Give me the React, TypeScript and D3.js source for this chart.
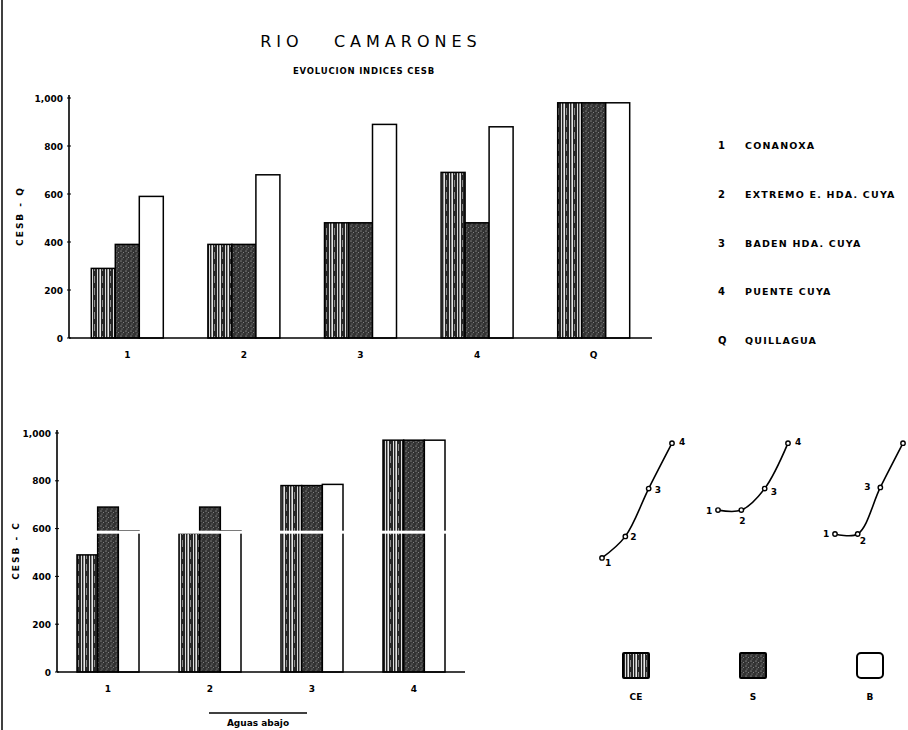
import React from 'react';
import * as d3 from 'd3';

// stations downstream, Q = Quillagua
const topCategories = ['1', '2', '3', '4', 'Q'];
const bottomCategories = ['1', '2', '3', '4'];
const series = ['CE', 'S', 'B'];

// CESB - Q
const topCE = [290, 390, 480, 690, 980];
const topS = [390, 390, 480, 480, 980];
const topB = [590, 680, 890, 880, 980];

// CESB - C
const bottomCE = [490, 580, 780, 970];
const bottomS = [690, 690, 780, 970];
const bottomB = [590, 590, 785, 970];

const yTicks = [0, 200, 400, 600, 800, 1000];
const stationNames = [
  ['1', 'CONANOXA'],
  ['2', 'EXTREMO E. HDA. CUYA'],
  ['3', 'BADEN HDA. CUYA'],
  ['4', 'PUENTE CUYA'],
  ['Q', 'QUILLAGUA'],
];
const fills: Record<string, string> = {CE: 'url(#ceFill)', S: 'url(#sFill)', B: '#fff'};
const font = '"DejaVu Sans", sans-serif';

function BarPanel({cats, data, x0, x1, y0, y1, groupW, axisLabel, labelX, breakAt}: any) {
  const x = d3.scaleBand().domain(cats).range([x0, x1]);
  const xs = d3.scaleBand().domain(series).range([0, groupW]);
  const y = d3.scaleLinear().domain([0, 1000]).range([y0, y1]);
  const fmt = d3.format(',');
  return (
    <g>
      <line x1={x0} x2={x0} y1={y(0)} y2={y(1000) - 3} stroke="#000" strokeWidth={1.6} />
      {yTicks.map(t => (
        <g key={t}>
          <line x1={x0 - 2} x2={x0 + 2} y1={y(t)} y2={y(t)} stroke="#000" />
          <text x={x0 - 6} y={y(t) + 3.5} textAnchor="end" fontSize={9} fontWeight="bold" fontFamily={font}>
            {fmt(t)}
          </text>
        </g>
      ))}
      {cats.map((c: string, i: number) => {
        const cx = (x(c) as number) + x.bandwidth() / 2;
        return (
          <g key={c}>
            {series.map(s => {
              const v = data[s][i];
              return (
                <rect
                  key={s}
                  x={cx - groupW / 2 + (xs(s) as number)}
                  y={y(v)}
                  width={xs.bandwidth()}
                  height={y(0) - y(v)}
                  fill={fills[s]}
                  stroke="#000"
                  strokeWidth={1.5}
                />
              );
            })}
            <text x={cx} y={y0 + 20} textAnchor="middle" fontSize={9} fontWeight="bold" fontFamily={font}>
              {c}
            </text>
          </g>
        );
      })}
      {breakAt != null && <rect x={x0 + 2} y={y(breakAt) - 1.5} width={x1 - x0} height={3} fill="#fff" />}
      <line x1={x0} x2={x1} y1={y0} y2={y0} stroke="#000" strokeWidth={1.6} />
      <text
        transform={`translate(${labelX},${(y0 + y1) / 2 - 2}) rotate(-90)`}
        textAnchor="middle"
        fontSize={9}
        fontWeight="bold"
        fontFamily={font}
        letterSpacing={2}
      >
        {axisLabel}
      </text>
    </g>
  );
}

function MiniCurve({vals, xr, y, labels}: any) {
  const x = d3.scalePoint<number>().domain([1, 2, 3, 4]).range(xr);
  const pts: [number, number][] = vals.map((v: number, i: number) => [x(i + 1) as number, y(v)]);
  const line = d3.line().curve(d3.curveCatmullRom.alpha(0.5));
  return (
    <g>
      <path d={line(pts) || ''} fill="none" stroke="#000" strokeWidth={1.6} />
      {pts.map((p, i) => (
        <g key={i}>
          <circle cx={p[0]} cy={p[1]} r={2.2} fill="#fff" stroke="#000" strokeWidth={1.4} />
          {labels[i] && (
            <text x={p[0] + labels[i][0]} y={p[1] + labels[i][1]} fontSize={9} fontWeight="bold" fontFamily={font}>
              {i + 1}
            </text>
          )}
        </g>
      ))}
    </g>
  );
}

export default function App() {
  const yMini = d3.scaleLinear().domain([0, 1000]).range([675, 436]);
  return (
    <svg
      width={908}
      height={730}
      style={{position: 'absolute', left: 0, top: 0, display: 'block', background: '#fff'}}
    >
      <defs>
        <pattern id="ceFill" width={8} height={12} patternUnits="userSpaceOnUse">
          <rect width={8} height={12} fill="#262626" />
          <rect x={1} width={1} height={12} fill="#ddd" />
          <rect x={3.5} width={1.4} height={12} fill="#fff" />
          <rect x={6} width={0.7} height={7} fill="#bbb" />
        </pattern>
        <pattern id="sFill" width={5} height={5} patternUnits="userSpaceOnUse">
          <rect width={5} height={5} fill="#333" />
          <circle cx={1} cy={1} r={0.55} fill="#ccc" />
          <circle cx={3.5} cy={2.5} r={0.5} fill="#999" />
          <circle cx={2} cy={4} r={0.45} fill="#eee" />
        </pattern>
      </defs>

      <line x1={2} x2={2} y1={0} y2={730} stroke="#000" strokeWidth={1.5} />

      <text x={371} y={47} textAnchor="middle" fontSize={16} fontFamily={font} letterSpacing={5}>
        RIO{'\u00a0\u00a0\u00a0'}CAMARONES
      </text>
      <text x={364} y={74} textAnchor="middle" fontSize={8.5} fontWeight="bold" fontFamily={font} letterSpacing={0.8}>
        EVOLUCION INDICES CESB
      </text>

      <BarPanel
        cats={topCategories}
        data={{CE: topCE, S: topS, B: topB}}
        x0={69}
        x1={652}
        y0={338}
        y1={98}
        groupW={72}
        axisLabel="CESB - Q"
        labelX={23}
      />
      <BarPanel
        cats={bottomCategories}
        data={{CE: bottomCE, S: bottomS, B: bottomB}}
        x0={57}
        x1={465}
        y0={672}
        y1={433}
        groupW={62}
        axisLabel="CESB - C"
        labelX={19}
        breakAt={585}
      />

      <line x1={209} x2={307} y1={713} y2={713} stroke="#000" strokeWidth={1.4} />
      <text x={258} y={726} textAnchor="middle" fontSize={9} fontWeight="bold" fontFamily={font}>
        Aguas abajo
      </text>

      {stationNames.map(([k, name], i) => (
        <g key={k} transform={`translate(718,${149 + i * 48.75})`}>
          <text fontSize={10} fontWeight="bold" fontFamily={font}>{k}</text>
          <text x={27} fontSize={9.5} fontWeight="bold" fontFamily={font} letterSpacing={1.2}>{name}</text>
        </g>
      ))}

      <MiniCurve vals={bottomCE} xr={[602, 672]} y={yMini} labels={[[3, 8], [5, 4], [6, 4], [7, 2]]} />
      <MiniCurve vals={bottomS} xr={[718, 788]} y={yMini} labels={[[-12, 4], [-2, 14], [6, 6], [7, 2]]} />
      <MiniCurve vals={bottomB} xr={[835, 903]} y={yMini} labels={[[-12, 3], [2, 10], [-16, 3], null]} />

      {series.map((s, i) => {
        const cx = 636 + i * 117;
        return (
          <g key={s}>
            <rect x={cx - 13} y={653} width={26} height={25} rx={s === 'B' ? 4 : 1} fill={fills[s]} stroke="#000" strokeWidth={2} />
            <text x={cx} y={700} textAnchor="middle" fontSize={9} fontWeight="bold" fontFamily={font}>{s}</text>
          </g>
        );
      })}
    </svg>
  );
}
